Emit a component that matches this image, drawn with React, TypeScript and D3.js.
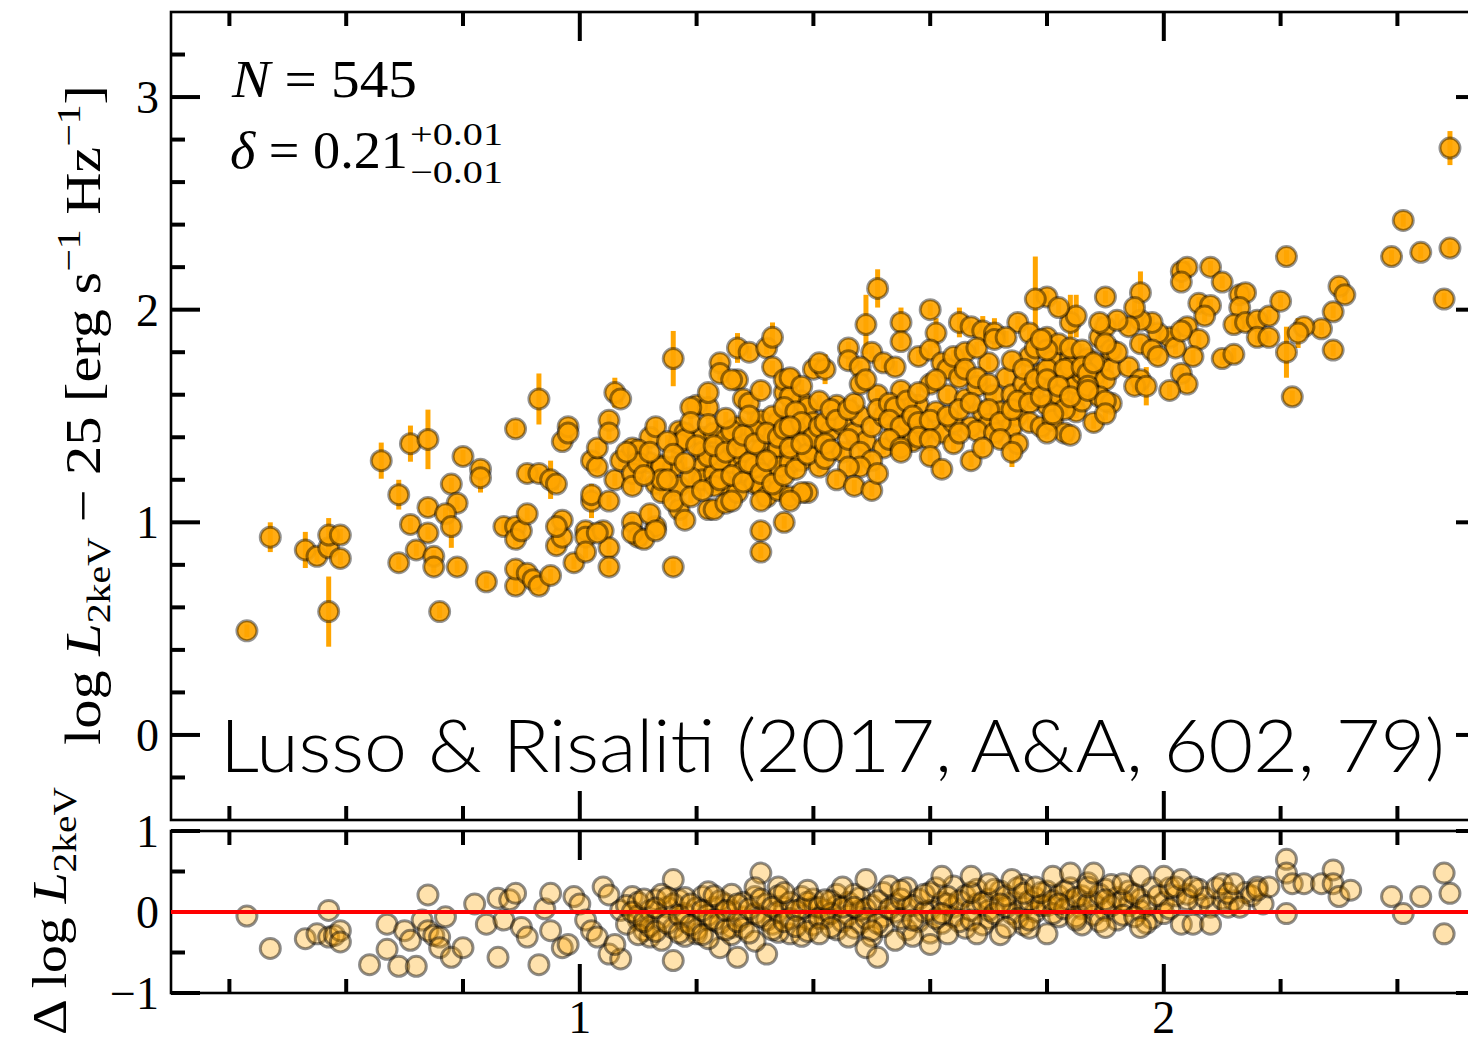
import React from 'react';
import * as d3 from 'd3';

// ---------- data ----------
// main panel: [x, log L2keV - 25, error]
const topBandA: [number, number, number][] = [
  [0.43,0.49,0.03],[0.47,0.93,0.07],[0.53,0.87,0.085],[0.55,0.84,0.03],[0.57,0.88,0.03],[0.57,0.94,0.08],
  [0.59,0.94,0.03],[0.59,0.83,0.03],[0.57,0.58,0.165],[0.66,1.29,0.085],[0.71,1.37,0.085],[0.74,1.39,0.14],
  [0.69,1.13,0.07],[0.69,0.81,0.03],[0.71,0.99,0.03],[0.74,1.07,0.03],[0.74,0.95,0.03],[0.72,0.87,0.03],
  [0.75,0.84,0.03],[0.75,0.79,0.03],[0.78,1.18,0.03],[0.79,1.09,0.03],[0.77,1.04,0.03],[0.78,0.98,0.10],
  [0.79,0.79,0.03],[0.76,0.58,0.03],[0.80,1.31,0.03],[0.83,1.25,0.03],[0.83,1.21,0.07],[0.84,0.72,0.03],
  [0.87,0.98,0.03],[0.89,0.98,0.03],[0.89,0.70,0.03],[0.89,1.44,0.03],[0.89,0.92,0.03],[0.89,0.78,0.03],
  [0.90,0.96,0.03],[0.91,1.04,0.03],[0.91,0.76,0.03],[0.92,0.73,0.03],[0.93,0.70,0.03],[0.96,0.89,0.03],
  [0.97,0.93,0.03],[0.97,1.01,0.03],[0.96,0.98,0.03],[0.95,0.75,0.03],[0.99,0.81,0.03],[1.01,0.96,0.03],
  [1.01,0.93,0.03],[1.01,0.86,0.03],[1.04,0.96,0.03],[1.05,0.88,0.03],[1.05,0.79,0.03],[0.93,1.58,0.12],
  [0.91,1.23,0.03],[0.93,1.23,0.03],[0.95,1.20,0.09],[0.96,1.18,0.03],[0.97,1.38,0.03],[0.98,1.45,0.03],
  [0.98,1.42,0.03],[1.02,1.10,0.08],[1.02,1.13,0.03],[1.05,1.10,0.03],[1.02,1.29,0.03],[1.03,1.26,0.03],
  [1.03,1.35,0.03],[1.06,1.61,0.07],[1.07,1.58,0.03],[1.05,1.48,0.03],[1.05,1.42,0.03],[1.06,1.20,0.03],
  [1.07,1.29,0.03],[1.03,0.95,0.03],
];
const topBandB: [number, number, number][] = [
  [1.16,1.77,0.13],[1.09,1.00,0.03],[1.10,0.93,0.03],[1.09,0.95,0.03],[1.13,0.98,0.03],[1.12,1.04,0.03],
  [1.09,1.35,0.03],[1.10,1.31,0.03],[1.09,1.23,0.03],[1.09,1.17,0.03],[1.12,1.40,0.03],[1.12,1.28,0.03],
  [1.14,1.27,0.03],[1.13,1.18,0.03],[1.14,1.14,0.03],[1.17,1.43,0.03],[1.18,1.42,0.03],[1.17,1.37,0.10],
  [1.16,1.26,0.03],[1.17,1.17,0.03],[1.17,1.06,0.03],[1.18,1.01,0.03],[1.20,1.55,0.03],[1.22,1.54,0.03],
  [1.22,1.61,0.03],[1.24,1.75,0.03],[1.24,1.70,0.03],[1.27,1.82,0.07],[1.29,1.80,0.03],[1.32,1.82,0.03],
  [1.33,1.87,0.07],[1.27,1.67,0.03],[1.28,1.58,0.03],[1.29,1.56,0.03],[1.31,1.62,0.03],[1.33,1.73,0.03],
  [1.31,1.48,0.03],[1.21,1.40,0.03],[1.23,1.42,0.03],[1.25,1.39,0.03],[1.27,1.45,0.03],[1.30,1.43,0.03],
  [1.34,1.47,0.03],[1.21,1.33,0.03],[1.21,1.26,0.03],[1.23,1.31,0.03],[1.24,1.26,0.03],[1.26,1.28,0.03],
  [1.28,1.31,0.03],[1.31,1.34,0.03],[1.33,1.31,0.03],[1.34,1.35,0.03],[1.36,1.31,0.03],[1.21,1.20,0.03],
  [1.23,1.23,0.03],[1.25,1.17,0.03],[1.28,1.24,0.03],[1.30,1.18,0.03],[1.32,1.20,0.03],[1.34,1.26,0.03],
  [1.36,1.28,0.03],[1.38,1.29,0.03],[1.22,1.06,0.03],[1.23,1.06,0.03],[1.25,1.09,0.03],[1.27,1.14,0.03],
  [1.31,1.17,0.03],[1.32,1.12,0.03],[1.34,1.15,0.03],[1.36,1.12,0.03],[1.39,1.14,0.03],[1.31,0.96,0.03],
  [1.35,1.00,0.03],[1.31,0.86,0.03],[1.35,1.61,0.03],[1.36,1.67,0.03],[1.38,1.57,0.03],[1.40,1.72,0.03],
  [1.39,1.54,0.03],[1.40,1.47,0.03],[1.37,1.43,0.03],[1.39,1.40,0.03],[1.40,1.34,0.03],[1.41,1.26,0.03],
  [1.10,1.34,0.03],[1.10,1.28,0.03],[1.14,1.26,0.03],[1.16,1.10,0.03],[1.16,0.79,0.03],[1.19,1.54,0.03],
  [1.26,1.43,0.03],[1.22,1.31,0.03],[1.19,1.21,0.03],[1.23,1.17,0.03],[1.26,1.10,0.03],[1.31,1.10,0.03],
  [1.08,1.33,0.03],[1.11,0.92,0.03],[1.13,0.96,0.03],[1.14,1.20,0.03],[1.18,1.39,0.03],[1.24,1.29,0.03],
  [1.30,1.26,0.03],[1.35,1.67,0.03],[1.36,1.59,0.03],[1.26,1.67,0.03],[1.33,1.50,0.03],[1.35,1.54,0.03],
];
const topBandC: [number, number, number][] = [
  [1.51,2.10,0.09],[1.49,1.93,0.14],[1.55,1.94,0.07],[1.55,1.85,0.03],[1.60,2.00,0.03],[1.61,1.89,0.07],
  [1.65,1.94,0.07],[1.67,1.92,0.03],[1.69,1.90,0.07],[1.71,1.89,0.07],[1.75,1.94,0.03],[1.80,2.06,0.03],
  [1.78,2.05,0.20],[1.84,1.94,0.13],[1.90,2.06,0.03],[1.46,1.82,0.03],[1.50,1.80,0.03],[1.46,1.76,0.03],
  [1.48,1.73,0.03],[1.52,1.75,0.03],[1.54,1.73,0.03],[1.42,1.72,0.07],[1.41,1.75,0.03],[1.36,1.68,0.03],
  [1.38,1.64,0.03],[1.41,1.57,0.03],[1.42,1.47,0.03],[1.43,1.53,0.03],[1.44,1.48,0.03],[1.46,1.53,0.03],
  [1.47,1.56,0.03],[1.48,1.65,0.03],[1.49,1.67,0.03],[1.51,1.53,0.03],[1.53,1.56,0.03],[1.54,1.54,0.03],
  [1.56,1.57,0.03],[1.58,1.61,0.03],[1.58,1.78,0.03],[1.60,1.81,0.03],[1.62,1.75,0.03],[1.63,1.72,0.03],
  [1.65,1.68,0.03],[1.61,1.67,0.03],[1.64,1.78,0.03],[1.66,1.80,0.03],[1.68,1.82,0.03],[1.71,1.86,0.03],
  [1.73,1.87,0.03],[1.77,1.89,0.03],[1.78,1.82,0.03],[1.80,1.87,0.03],[1.82,1.84,0.03],[1.84,1.82,0.03],
  [1.86,1.81,0.03],[1.89,1.87,0.03],[1.91,1.81,0.03],[1.66,1.72,0.03],[1.68,1.68,0.03],[1.70,1.65,0.03],
  [1.74,1.76,0.03],[1.76,1.72,0.03],[1.78,1.67,0.03],[1.80,1.72,0.03],[1.83,1.72,0.03],[1.86,1.73,0.03],
  [1.87,1.70,0.03],[1.90,1.67,0.03],[1.91,1.72,0.03],[1.36,1.45,0.03],[1.38,1.37,0.03],[1.42,1.37,0.03],
  [1.43,1.34,0.03],[1.46,1.39,0.03],[1.48,1.33,0.03],[1.50,1.29,0.03],[1.48,1.26,0.03],[1.46,1.26,0.03],
  [1.44,1.20,0.03],[1.47,1.17,0.03],[1.50,1.15,0.03],[1.38,1.14,0.03],[1.36,1.10,0.03],[1.53,1.48,0.03],
  [1.55,1.45,0.03],[1.57,1.50,0.03],[1.58,1.47,0.03],[1.60,1.48,0.03],[1.63,1.50,0.03],[1.53,1.39,0.03],
  [1.55,1.35,0.03],[1.58,1.40,0.03],[1.60,1.39,0.03],[1.60,1.31,0.03],[1.62,1.25,0.03],[1.64,1.37,0.03],
  [1.67,1.29,0.03],[1.65,1.53,0.03],[1.67,1.56,0.03],[1.70,1.53,0.03],[1.68,1.43,0.03],[1.71,1.42,0.03],
  [1.72,1.47,0.03],[1.74,1.53,0.03],[1.75,1.57,0.03],[1.77,1.56,0.03],[1.79,1.59,0.03],[1.77,1.47,0.03],
  [1.79,1.45,0.03],[1.81,1.48,0.03],[1.83,1.53,0.03],[1.86,1.57,0.03],[1.87,1.64,0.03],[1.89,1.59,0.03],
  [1.91,1.56,0.03],[1.88,1.47,0.03],[1.83,1.42,0.03],[1.80,1.42,0.03],[1.75,1.37,0.07],[1.72,1.39,0.03],
  [1.69,1.35,0.03],[1.65,1.42,0.03],[1.55,1.33,0.03],[1.51,1.23,0.03],[1.74,1.33,0.07],
];
const topBandD: [number, number, number][] = [
  [1.96,2.08,0.10],[2.03,2.18,0.03],[2.04,2.20,0.03],[2.08,2.20,0.03],[2.03,2.13,0.03],[2.10,2.13,0.03],
  [2.13,2.07,0.03],[2.14,2.08,0.03],[2.13,2.01,0.03],[2.12,1.93,0.03],[2.14,1.94,0.03],[2.06,2.03,0.03],
  [2.08,2.02,0.03],[2.07,1.97,0.03],[2.16,1.95,0.03],[2.18,1.97,0.03],[2.16,1.87,0.03],[2.18,1.87,0.03],
  [2.10,1.77,0.03],[2.12,1.79,0.03],[2.04,1.92,0.03],[2.06,1.86,0.03],[2.05,1.78,0.03],[2.03,1.70,0.03],
  [2.04,1.65,0.03],[2.01,1.62,0.03],[2.01,1.87,0.03],[2.02,1.82,0.03],[1.99,1.89,0.03],[1.98,1.94,0.03],
  [1.96,1.95,0.03],[1.95,2.01,0.03],[1.94,1.92,0.03],[1.96,1.84,0.03],[1.98,1.81,0.03],[1.99,1.78,0.03],
  [1.94,1.73,0.03],[1.96,1.67,0.03],[1.95,1.64,0.03],[1.97,1.64,0.09],[1.90,1.92,0.03],[1.92,1.95,0.03],
  [1.89,1.94,0.03],[1.85,1.97,0.10],[1.82,2.01,0.03],[1.88,1.75,0.03],[1.80,1.81,0.03],[1.79,1.86,0.03],
  [1.80,1.67,0.03],[1.82,1.64,0.03],[1.84,1.59,0.03],[1.87,1.62,0.03],[1.90,1.57,0.07],[1.90,1.51,0.03],
  [1.84,1.41,0.03],[1.81,1.51,0.03],[1.92,1.80,0.03],[1.90,1.84,0.03],[2.21,2.25,0.03],[2.20,2.04,0.03],
  [2.21,1.80,0.12],[2.22,1.59,0.03],[2.30,2.11,0.03],[2.31,2.07,0.03],[2.29,1.99,0.03],[2.27,1.91,0.03],
  [2.24,1.92,0.03],[2.23,1.89,0.07],[2.29,1.81,0.03],[2.41,2.42,0.03],[2.39,2.25,0.03],[2.44,2.27,0.03],
  [2.49,2.29,0.03],[2.48,2.05,0.03],[2.49,2.76,0.08],[2.03,1.90,0.03],
];
// extra points of the crowded core of the cloud
const topBandCore: [number, number, number][] = [
  [1.11,1.22,0.03],[1.12,1.33,0.03],[1.13,1.45,0.03],[1.15,1.38,0.03],[1.15,1.20,0.03],[1.16,1.32,0.03],
  [1.18,1.28,0.03],[1.19,1.12,0.03],[1.19,1.47,0.03],[1.20,1.36,0.03],[1.21,1.15,0.03],[1.22,1.46,0.03],
  [1.23,1.36,0.03],[1.24,1.20,0.03],[1.25,1.33,0.03],[1.25,1.49,0.03],[1.26,1.22,0.03],[1.27,1.35,0.03],
  [1.28,1.19,0.03],[1.28,1.41,0.03],[1.29,1.28,0.03],[1.29,1.50,0.03],[1.30,1.37,0.03],[1.31,1.23,0.03],
  [1.32,1.42,0.03],[1.32,1.29,0.03],[1.33,1.18,0.03],[1.34,1.40,0.03],[1.35,1.22,0.03],[1.35,1.44,0.03],
  [1.36,1.35,0.03],[1.37,1.52,0.03],[1.37,1.25,0.03],[1.38,1.47,0.03],[1.39,1.32,0.03],[1.40,1.40,0.03],
  [1.41,1.45,0.03],[1.42,1.30,0.03],[1.43,1.43,0.03],[1.44,1.55,0.03],[1.45,1.33,0.03],[1.45,1.46,0.03],
  [1.47,1.42,0.03],[1.48,1.50,0.03],[1.49,1.38,0.03],[1.50,1.45,0.03],[1.51,1.60,0.03],[1.52,1.35,0.03],
  [1.52,1.50,0.03],[1.54,1.42,0.03],[1.55,1.62,0.03],[1.56,1.48,0.03],[1.57,1.38,0.03],[1.58,1.55,0.03],
  [1.59,1.44,0.03],[1.60,1.65,0.03],[1.61,1.52,0.03],[1.62,1.42,0.03],[1.63,1.60,0.03],[1.64,1.47,0.03],
  [1.65,1.72,0.03],[1.66,1.58,0.03],[1.67,1.45,0.03],[1.68,1.64,0.03],[1.69,1.52,0.03],[1.70,1.75,0.03],
  [1.71,1.60,0.03],[1.72,1.52,0.03],[1.73,1.68,0.03],[1.74,1.60,0.03],[1.75,1.50,0.03],[1.76,1.65,0.03],
  [1.77,1.78,0.03],[1.78,1.58,0.03],[1.79,1.70,0.03],[1.80,1.55,0.03],[1.81,1.76,0.03],[1.82,1.60,0.03],
  [1.83,1.68,0.03],[1.84,1.77,0.03],[1.85,1.65,0.03],[1.86,1.70,0.03],[1.87,1.77,0.03],[1.88,1.68,0.03],
  [1.89,1.74,0.03],[1.85,1.52,0.03],[1.74,1.45,0.03],[1.70,1.46,0.03],[1.77,1.61,0.03],[1.84,1.73,0.03],
];

// residual panel: [x, delta log L2keV]
const resLow: [number, number][] = [
  [0.43,-0.05],[0.47,-0.45],[0.53,-0.33],[0.55,-0.27],[0.57,-0.31],[0.57,0.02],[0.58,-0.29],[0.59,-0.23],
  [0.59,-0.37],[0.64,-0.65],[0.67,-0.15],[0.67,-0.46],[0.69,-0.67],[0.72,-0.67],[0.70,-0.23],[0.71,-0.35],
  [0.73,-0.10],[0.74,0.21],[0.74,-0.23],[0.75,-0.29],[0.76,-0.31],[0.77,-0.06],[0.76,-0.44],[0.78,-0.56],
  [0.80,-0.44],[0.82,0.10],[0.84,-0.15],[0.86,0.17],[0.86,-0.56],[0.87,-0.10],[0.88,0.15],[0.89,0.23],
  [0.90,-0.19],[0.91,-0.31],[0.93,-0.65],[0.94,0.04],[0.95,0.23],[0.95,-0.23],[0.97,-0.44],[0.98,-0.40],
  [0.99,0.19],[1.00,0.10],[1.01,-0.10],[1.02,-0.23],[1.03,-0.31],[1.04,0.31],[1.05,0.21],[1.05,-0.52],
  [1.07,-0.58],[1.06,-0.40],[1.07,0.02],[1.09,0.19],[1.10,-0.10],[1.11,-0.23],[1.12,-0.31],[1.13,0.15],
  [1.15,0.06],[1.16,0.40],[1.16,-0.60],[1.17,0.15],[1.18,-0.02],[1.20,-0.27],[1.21,0.19],[1.22,-0.10],
  [1.23,0.06],[1.24,-0.44],[1.25,0.10],[1.26,-0.19],[1.27,-0.56],[1.28,-0.06],[1.30,0.19],[1.31,0.48],
  [1.32,-0.52],[1.33,-0.15],[1.34,0.31],[1.35,0.06],[1.36,-0.27],[1.38,0.19],[1.39,-0.10],[1.40,0.06],
];
const resHigh: [number, number][] = [
  [1.39,0.27],[1.42,0.15],[1.45,0.31],[1.47,0.06],[1.49,0.40],[1.50,-0.23],[1.49,-0.44],[1.51,-0.56],
  [1.46,-0.31],[1.43,-0.19],[1.41,-0.27],[1.55,0.27],[1.54,-0.35],[1.57,-0.10],[1.60,-0.40],[1.62,0.44],
  [1.63,0.19],[1.62,-0.02],[1.63,-0.27],[1.67,0.44],[1.67,-0.10],[1.68,-0.27],[1.70,0.35],[1.72,0.10],
  [1.73,-0.19],[1.74,0.40],[1.76,0.23],[1.77,-0.10],[1.78,0.31],[1.80,-0.27],[1.81,0.44],[1.84,0.48],
  [1.82,0.10],[1.85,-0.10],[1.87,0.31],[1.88,0.48],[1.90,0.15],[1.90,-0.19],[1.93,0.35],[1.96,0.44],
  [1.95,-0.06],[1.96,-0.19],[2.00,0.44],[2.02,0.31],[2.03,0.40],[2.03,-0.15],[2.04,0.15],[2.05,-0.15],
  [2.05,0.31],[2.08,-0.15],[2.10,0.35],[2.11,0.06],[2.11,0.23],[2.12,0.35],[2.13,0.06],[2.16,0.31],
  [2.16,0.27],[2.18,0.31],[2.21,0.65],[2.21,0.48],[2.21,-0.02],[2.22,0.35],[2.24,0.35],[2.27,0.35],
  [2.29,0.52],[2.29,0.35],[2.30,0.19],[2.32,0.27],[2.39,0.19],[2.41,-0.02],[2.44,0.19],[2.48,0.48],
  [2.49,0.23],[2.48,-0.27],
];
const resCore: [number, number][] = [
  [1.08,0.08],[1.08,-0.15],[1.10,0.12],[1.10,-0.05],[1.10,-0.28],[1.12,0.02],[1.12,-0.18],[1.14,0.22],
  [1.14,-0.08],[1.14,-0.35],[1.16,0.10],[1.16,-0.20],[1.18,0.18],[1.18,-0.12],[1.18,-0.30],[1.20,0.05],
  [1.20,-0.22],[1.22,0.25],[1.22,-0.04],[1.22,-0.33],[1.24,0.14],[1.24,-0.14],[1.26,0.02],[1.26,-0.28],
  [1.26,0.22],[1.28,0.12],[1.28,-0.20],[1.30,-0.02],[1.30,-0.36],[1.30,0.30],[1.32,0.10],[1.32,-0.10],
  [1.34,0.20],[1.34,-0.25],[1.34,0.00],[1.36,0.12],[1.36,-0.08],[1.38,0.04],[1.38,-0.30],[1.40,0.16],
  [1.40,-0.16],[1.42,0.02],[1.42,-0.08],[1.44,0.22],[1.44,-0.22],[1.44,0.08],[1.46,0.12],[1.46,-0.04],
  [1.48,0.18],[1.48,-0.14],[1.48,0.02],[1.50,0.08],[1.50,-0.30],[1.52,0.24],[1.52,-0.06],[1.52,-0.18],
  [1.54,0.10],[1.54,0.00],[1.56,0.30],[1.56,-0.22],[1.56,0.06],[1.58,0.16],[1.58,-0.12],[1.60,0.24],
  [1.60,0.02],[1.60,-0.26],[1.62,0.12],[1.62,-0.14],[1.64,0.32],[1.64,0.06],[1.64,-0.06],[1.66,0.20],
  [1.66,-0.20],[1.68,0.10],[1.68,0.28],[1.70,0.16],[1.70,-0.08],[1.70,0.02],[1.72,0.26],[1.72,-0.28],
  [1.74,0.12],[1.74,-0.02],[1.76,0.06],[1.76,-0.16],[1.76,0.34],[1.78,0.18],[1.78,0.00],[1.80,0.26],
  [1.80,0.08],[1.82,0.20],[1.82,-0.06],[1.84,0.14],[1.84,0.30],[1.86,0.04],[1.86,0.20],[1.86,-0.16],
  [1.88,0.12],[1.88,-0.04],[1.90,0.28],[1.90,0.02],[1.92,0.18],[1.92,-0.10],[1.94,0.08],[1.94,0.26],
  [1.96,0.16],[1.96,0.02],[1.98,0.30],[1.98,-0.08],[2.00,0.12],[2.00,-0.02],[2.02,0.20],[2.06,0.10],
  [2.06,0.28],[2.08,0.06],[2.10,0.16],[2.14,0.24],
];
const resCore2: [number, number][] = [
  [1.09,0.00],[1.11,-0.12],[1.11,0.16],[1.13,-0.24],[1.13,0.05],[1.15,-0.14],[1.15,0.18],[1.17,-0.04],
  [1.17,-0.26],[1.19,0.10],[1.19,-0.16],[1.21,0.02],[1.21,-0.28],[1.23,-0.10],[1.23,0.20],[1.25,-0.22],
  [1.25,0.02],[1.27,0.10],[1.27,-0.12],[1.29,0.04],[1.29,-0.26],[1.31,-0.06],[1.31,0.16],[1.33,0.06],
  [1.33,-0.22],[1.35,-0.12],[1.35,0.24],[1.37,0.02],[1.37,-0.18],[1.39,0.12],[1.39,-0.24],[1.41,0.06],
  [1.41,-0.08],[1.43,0.14],[1.43,-0.02],[1.45,-0.12],[1.45,0.06],[1.47,0.22],[1.47,-0.20],[1.49,0.04],
  [1.49,-0.08],[1.51,0.14],[1.51,-0.14],[1.53,0.04],[1.53,0.32],[1.55,-0.08],[1.55,0.16],[1.57,0.08],
  [1.57,-0.30],[1.59,0.00],[1.59,0.22],[1.61,-0.08],[1.61,0.30],[1.63,0.10],[1.65,-0.12],[1.65,0.14],
  [1.67,0.02],[1.67,0.24],[1.69,-0.16],[1.69,0.12],[1.71,0.28],[1.71,-0.02],[1.73,0.06],[1.73,0.20],
  [1.75,-0.08],[1.75,0.30],[1.77,0.14],[1.77,-0.20],[1.79,0.08],[1.79,0.24],[1.81,-0.02],[1.81,0.14],
  [1.83,0.26],[1.83,0.04],[1.85,0.18],[1.85,-0.06],[1.87,0.10],[1.87,0.36],[1.89,0.22],[1.89,-0.12],
  [1.91,0.08],[1.91,0.34],[1.93,0.14],[1.93,-0.04],[1.95,0.22],[1.97,0.08],[1.97,-0.14],[1.99,0.20],
  [2.01,0.04],[2.01,0.30],[2.04,0.22],[2.07,0.18],[2.09,0.30],[2.12,0.14],[2.15,0.20],[2.17,0.10],
];

const xMajorTicks = [1, 2];
const xTickLabels = ['1', '2'];
const topYMajorTicks = [0, 1, 2, 3];
const topYTickLabels = ['0', '1', '2', '3'];
const botYMajorTicks = [-1, 0, 1];
const botYTickLabels = ['\u22121', '0', '1'];

const topPoints = [...topBandA, ...topBandB, ...topBandCore, ...topBandC, ...topBandD];
const resPoints = [...resLow, ...resCore, ...resCore2, ...resHigh];

const SERIF = "'Liberation Serif', 'DejaVu Serif', serif";
const SANS = "Lato, 'Open Sans', Roboto, 'Liberation Sans', sans-serif";

export default function App() {
  const W = 1468, H = 1043;
  const L = 171, R = 1485;
  const topT = 12, topB = 820;
  const botT = 831, botB = 993;

  const x = d3.scaleLinear().domain([0.3, 2.55]).range([L, R]);
  const yT = d3.scaleLinear().domain([-0.4, 3.4]).range([topB, topT]);
  const yB = d3.scaleLinear().domain([-1, 1]).range([botB, botT]);

  const xMinor = d3.range(2, 13).map((i) => i * 0.2).filter((v) => Math.abs(v - 1) > 1e-6 && Math.abs(v - 2) > 1e-6);
  const yTopMinor = d3.range(-1, 17).map((i) => i * 0.2).filter((v) => Math.abs(v - Math.round(v)) > 1e-6);
  const yBotMinor = [-0.5, 0.5];

  const MAJ = 29, MIN = 14, TW = 4;

  const xTicks = (top: number, bottom: number) => (
    <g stroke="#000" strokeWidth={TW}>
      {xMinor.map((v) => (
        <g key={'xm' + v}>
          <line x1={x(v)} x2={x(v)} y1={top} y2={top + MIN} />
          <line x1={x(v)} x2={x(v)} y1={bottom} y2={bottom - MIN} />
        </g>
      ))}
      {xMajorTicks.map((v) => (
        <g key={'xM' + v}>
          <line x1={x(v)} x2={x(v)} y1={top} y2={top + MAJ} />
          <line x1={x(v)} x2={x(v)} y1={bottom} y2={bottom - MAJ} />
        </g>
      ))}
    </g>
  );

  const yTicks = (scale: d3.ScaleLinear<number, number>, major: number[], minor: number[]) => (
    <g stroke="#000" strokeWidth={TW}>
      {minor.map((v) => (
        <g key={'ym' + v}>
          <line x1={L} x2={L + MIN} y1={scale(v)} y2={scale(v)} />
          <line x1={R} x2={R - MIN} y1={scale(v)} y2={scale(v)} />
        </g>
      ))}
      {major.map((v) => (
        <g key={'yM' + v}>
          <line x1={L} x2={L + MAJ} y1={scale(v)} y2={scale(v)} />
          <line x1={R} x2={R - MAJ} y1={scale(v)} y2={scale(v)} />
        </g>
      ))}
    </g>
  );

  return (
    <svg width={W} height={H} style={{ position: 'absolute', left: 0, top: 0, display: 'block', background: '#fff' }}>
      <defs>
        <clipPath id="clipTop"><rect x={L} y={topT} width={R - L} height={topB - topT} /></clipPath>
        <clipPath id="clipBot"><rect x={L} y={botT} width={R - L} height={botB - botT} /></clipPath>
      </defs>

      {/* main panel points */}
      <g clipPath="url(#clipTop)">
        <g stroke="#FFA500" strokeWidth={5}>
          {topPoints.map((p, i) => (
            <line key={'e' + i} x1={x(p[0])} x2={x(p[0])} y1={yT(p[1] - p[2])} y2={yT(p[1] + p[2])} />
          ))}
        </g>
        <g>
          {topPoints.map((p, i) => (
            <circle key={'c' + i} cx={x(p[0])} cy={yT(p[1])} r={10}
              fill="#FFA500" fillOpacity={0.92} stroke="#000" strokeOpacity={0.42} strokeWidth={3} />
          ))}
        </g>
      </g>

      {/* frames and ticks */}
      <rect x={L} y={topT} width={R - L} height={topB - topT} fill="none" stroke="#000" strokeWidth={2.6} />
      <rect x={L} y={botT} width={R - L} height={botB - botT} fill="none" stroke="#000" strokeWidth={2.6} />
      {xTicks(topT, topB)}
      {xTicks(botT, botB)}
      {yTicks(yT, topYMajorTicks, yTopMinor)}
      {yTicks(yB, botYMajorTicks, yBotMinor)}

      {/* residual panel */}
      <g clipPath="url(#clipBot)">
        {resPoints.map((p, i) => (
          <circle key={'r' + i} cx={x(p[0])} cy={yB(p[1])} r={10}
            fill="#FFA500" fillOpacity={0.32} stroke="#000" strokeOpacity={0.45} strokeWidth={3} />
        ))}
      </g>
      <line x1={L} x2={R} y1={yB(0)} y2={yB(0)} stroke="#FF0000" strokeWidth={4} />

      {/* tick labels */}
      <g fontFamily={SERIF} fontSize={46} fill="#000">
        {topYMajorTicks.map((v, i) => (
          <text key={'tl' + v} x={159} y={yT(v) + 16} textAnchor="end">{topYTickLabels[i]}</text>
        ))}
        {botYMajorTicks.map((v, i) => (
          <text key={'bl' + v} x={159} y={yB(v) + 16} textAnchor="end">{botYTickLabels[i]}</text>
        ))}
        {xMajorTicks.map((v, i) => (
          <text key={'xl' + v} x={x(v)} y={1033} textAnchor="middle">{xTickLabels[i]}</text>
        ))}
      </g>

      {/* annotations */}
      <g fontFamily={SERIF} fill="#000">
        <text x={232} y={97} fontSize={52} textLength={185} lengthAdjust="spacingAndGlyphs">
          <tspan fontStyle="italic">N</tspan><tspan> = 545</tspan>
        </text>
        <text x={230} y={168} fontSize={52} textLength={178} lengthAdjust="spacingAndGlyphs">
          <tspan fontStyle="italic">δ</tspan><tspan> = 0.21</tspan>
        </text>
        <text x={410} y={145} fontSize={32} textLength={93} lengthAdjust="spacingAndGlyphs">+0.01</text>
        <text x={410} y={183} fontSize={32} textLength={93} lengthAdjust="spacingAndGlyphs">−0.01</text>
      </g>

      <text x={220} y={772} fontFamily={SANS} fontWeight={300} fontSize={72} fill="#000"
        textLength={1225} lengthAdjust="spacingAndGlyphs">Lusso &amp; Risaliti (2017, A&amp;A, 602, 79)</text>

      {/* axis labels */}
      <text transform="translate(100,415) rotate(-90)" textAnchor="middle" fontFamily={SERIF} fontSize={50} fill="#000"
        textLength={660} lengthAdjust="spacingAndGlyphs">
        <tspan>log </tspan><tspan fontStyle="italic">L</tspan><tspan fontSize={34} dy={10}>2keV</tspan>
        <tspan dy={-10}> − 25 [erg s</tspan><tspan fontSize={34} dy={-20}>−1</tspan>
        <tspan dy={20}> Hz</tspan><tspan fontSize={34} dy={-20}>−1</tspan><tspan dy={20}>]</tspan>
      </text>
      <text transform="translate(66,911) rotate(-90)" textAnchor="middle" fontFamily={SERIF} fontSize={48} fill="#000"
        textLength={248} lengthAdjust="spacingAndGlyphs">
        <tspan>Δ log </tspan><tspan fontStyle="italic">L</tspan><tspan fontSize={34} dy={10}>2keV</tspan>
      </text>
    </svg>
  );
}
